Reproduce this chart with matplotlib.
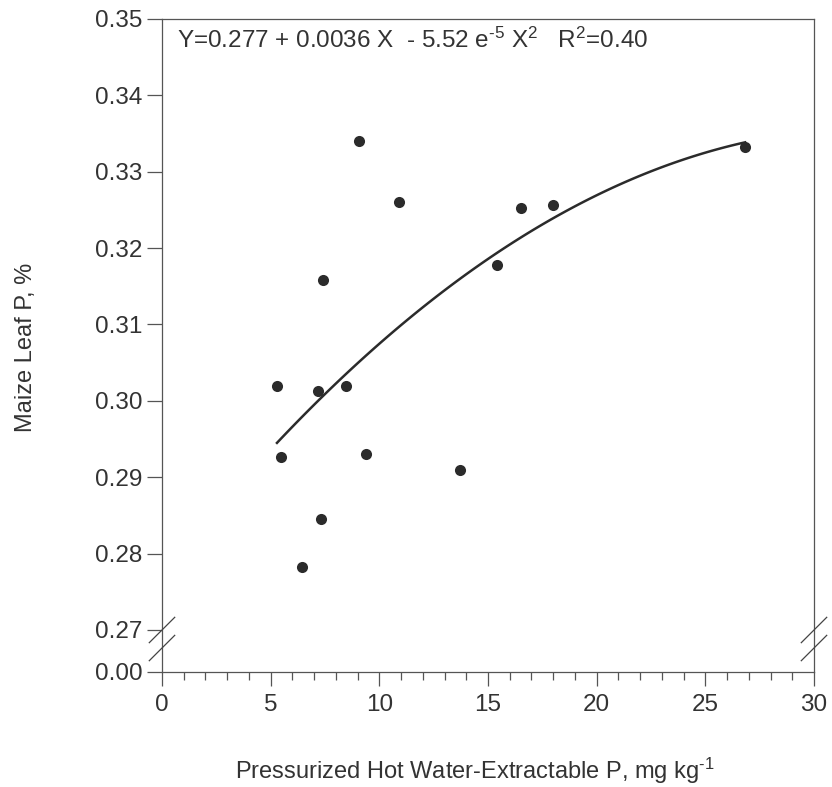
import numpy as np
import matplotlib
matplotlib.use("Agg")
import matplotlib.pyplot as plt

plt.rcParams.update({
    "font.family": ["Liberation Sans", "DejaVu Sans"],
    "mathtext.fontset": "custom",
    "mathtext.rm": "Liberation Sans",
    "mathtext.it": "Liberation Sans",
    "font.size": 17,
})

INK, AX = "#2b2b2b", "#555555"

# hot-water extractable P (mg/kg) vs maize leaf P (%)
pw_p = [5.29, 5.49, 6.46, 7.20, 7.31, 7.40, 8.45, 9.06, 9.38, 10.89,
        13.72, 15.43, 16.54, 18.00, 26.83]
leaf_p = [0.3020, 0.2927, 0.2783, 0.3013, 0.2845, 0.3158, 0.3020, 0.3340,
          0.2930, 0.3260, 0.2910, 0.3178, 0.3253, 0.3257, 0.3333]
coef = [0.277, 0.0036, -5.52e-5]   # fitted quadratic shown on the chart
yticks = [0.27, 0.28, 0.29, 0.30, 0.31, 0.32, 0.33, 0.34, 0.35]
ZERO = 0.2645   # where the broken axis puts 0.00

fig = plt.figure(figsize=(8.32, 7.87), dpi=100)
ax = fig.add_axes([162 / 832, 1 - 672 / 787, 652 / 832, 653 / 787])

xs = np.linspace(min(pw_p), max(pw_p), 100)
ax.plot(xs, coef[0] + coef[1] * xs + coef[2] * xs ** 2, color=INK, lw=1.8, zorder=2)
ax.plot(pw_p, leaf_p, "o", color=INK, ms=8, mec="none", zorder=3)

ax.set_xlim(0, 30)
ax.set_ylim(ZERO, 0.35)
ax.set_xticks(range(0, 31, 5))
ax.set_xticks(range(0, 31), minor=True)
ax.set_yticks([ZERO] + yticks)
ax.set_yticklabels(["0.00"] + [f"{v:.2f}" for v in yticks])

for s in ax.spines.values():
    s.set_color(AX); s.set_linewidth(0.9)
ax.tick_params(axis="both", colors=AX, labelcolor="#333", labelsize=17.5, width=0.9)
ax.tick_params(axis="x", which="major", length=10, pad=6)
ax.tick_params(axis="x", which="minor", length=6, width=0.9, colors=AX)
ax.tick_params(axis="y", length=11, pad=3)

# break marks on both vertical spines
dx, dy = 0.585, 0.00166
for xc in (0, 30):
    for yc in (0.27, 0.26764):
        ax.plot([xc - dx, xc + dx], [yc - dy, yc + dy], color="#444", lw=0.9,
                clip_on=False, zorder=5)

ax.text(15 / 652, 1 - 29 / 653,
        r"Y=0.277 + 0.0036 X  - 5.52 e$^{\text{-5}}$ X$^{2}$   R$^{2}$=0.40",
        transform=ax.transAxes, ha="left", va="baseline", fontsize=17.5, color="#333")

fig.text(0.031, 0.558, "Maize Leaf P, %", rotation=90, ha="center", va="center",
         fontsize=17, color="#333")
fig.text(0.571, 1 - 779 / 787, r"Pressurized Hot Water-Extractable P, mg kg$^{\text{-1}}$",
         ha="center", va="baseline", fontsize=17, color="#333")

fig.savefig("out.png", dpi=100)
